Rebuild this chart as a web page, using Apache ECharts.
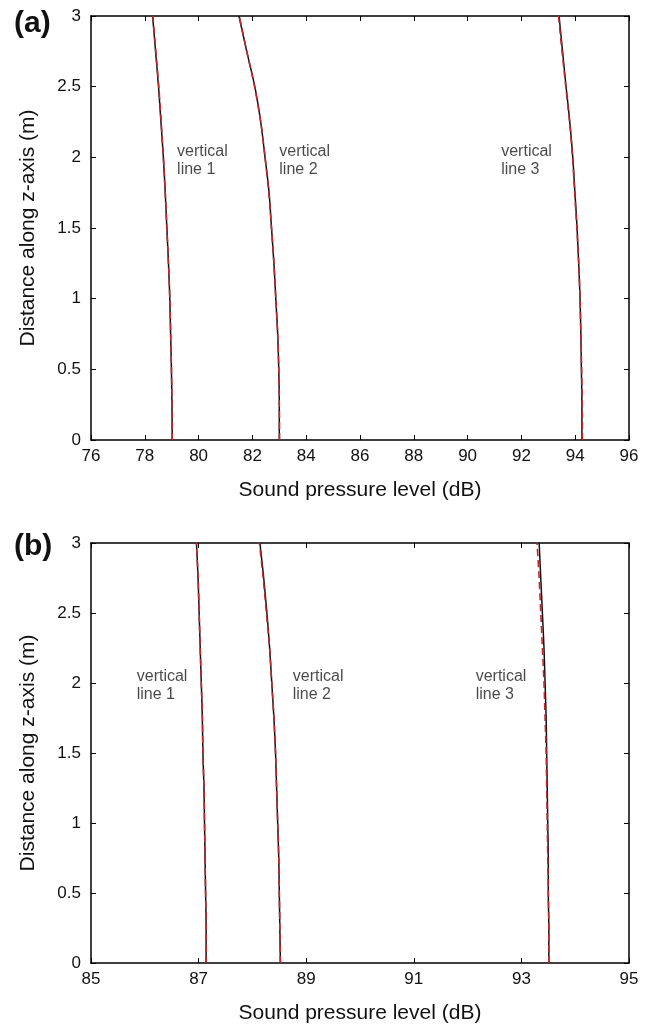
<!DOCTYPE html>
<html><head><meta charset="utf-8">
<script src="https://cdn.jsdelivr.net/npm/echarts@6/dist/echarts.min.js"></script>
<style>html,body{margin:0;padding:0;background:#fff}#c{width:651px;height:1025px}</style>
</head><body><div id="c"></div>
<script>
// Heights along z-axis (m)
const zVals = [0, 0.25, 0.5, 0.75, 1, 1.25, 1.5, 1.75, 2, 2.25, 2.5, 2.75, 3];
// Panel (a) SPL (dB): black solid / red dashed
const aLine1  = [79.02, 79.01, 78.99, 78.96, 78.93, 78.88, 78.82, 78.76, 78.69, 78.60, 78.51, 78.40, 78.29];
const aLine1r = [79.02, 79.01, 78.99, 78.96, 78.93, 78.88, 78.82, 78.76, 78.69, 78.61, 78.52, 78.41, 78.30];
const aLine2  = [83.00, 83.00, 82.98, 82.94, 82.87, 82.80, 82.71, 82.62, 82.47, 82.31, 82.09, 81.79, 81.50];
const aLine2r = [83.01, 83.00, 82.98, 82.94, 82.87, 82.80, 82.71, 82.61, 82.47, 82.31, 82.08, 81.79, 81.51];
const aLine3  = [94.25, 94.25, 94.23, 94.21, 94.18, 94.13, 94.07, 93.99, 93.91, 93.80, 93.66, 93.53, 93.40];
const aLine3r = [94.27, 94.26, 94.24, 94.21, 94.18, 94.13, 94.06, 93.98, 93.90, 93.79, 93.65, 93.51, 93.38];
// Panel (b)
const bLine1  = [87.14, 87.14, 87.13, 87.12, 87.11, 87.10, 87.08, 87.07, 87.05, 87.03, 87.01, 86.99, 86.96];
const bLine1r = [87.14, 87.14, 87.13, 87.12, 87.11, 87.10, 87.08, 87.07, 87.05, 87.03, 87.01, 86.99, 86.96];
const bLine2  = [88.52, 88.51, 88.50, 88.49, 88.47, 88.45, 88.43, 88.40, 88.36, 88.32, 88.27, 88.21, 88.14];
const bLine2r = [88.52, 88.51, 88.50, 88.49, 88.47, 88.45, 88.43, 88.40, 88.36, 88.32, 88.26, 88.20, 88.13];
const bLine3  = [93.51, 93.51, 93.50, 93.50, 93.49, 93.48, 93.47, 93.46, 93.44, 93.42, 93.39, 93.36, 93.33];
const bLine3r = [93.51, 93.51, 93.50, 93.49, 93.48, 93.47, 93.46, 93.44, 93.42, 93.39, 93.36, 93.33, 93.29];
// Tick labels
const aXTicks = [76, 78, 80, 82, 84, 86, 88, 90, 92, 94, 96];
const bXTicks = [85, 87, 89, 91, 93, 95];
const yTicks = [0, 0.5, 1, 1.5, 2, 2.5, 3];
// Annotations
const aNotes = [[79.2, 1.98, 'vertical\nline 1'], [83.0, 1.98, 'vertical\nline 2'], [91.25, 1.98, 'vertical\nline 3']];
const bNotes = [[85.85, 1.98, 'vertical\nline 1'], [88.75, 1.98, 'vertical\nline 2'], [92.15, 1.98, 'vertical\nline 3']];

const FONT = 'Liberation Sans, Arial, sans-serif';
const pair = (xs) => xs.map((x, i) => [x, zVals[i]]);

function xAxes(g, min, max, ticks) {
  const base = {
    type: 'value', gridIndex: g, min: min, max: max,
    splitLine: {show: false},
    axisLine: {show: true, onZero: false, lineStyle: {color: '#000', width: 1.5}},
    axisTick: {show: true, inside: true, length: 5, customValues: ticks, lineStyle: {color: '#000', width: 1}}
  };
  return [
    Object.assign({}, base, {position: 'bottom', name: 'Sound pressure level (dB)', nameLocation: 'middle', nameGap: 40,
      nameTextStyle: {fontFamily: FONT, fontSize: 21, color: '#111'},
      axisLabel: {show: true, customValues: ticks, fontFamily: FONT, fontSize: 17, color: '#111', margin: 8}}),
    Object.assign({}, base, {position: 'top', axisLabel: {show: false}})
  ];
}
function yAxes(g) {
  const base = {
    type: 'value', gridIndex: g, min: 0, max: 3, interval: 0.5,
    splitLine: {show: false},
    axisLine: {show: true, onZero: false, lineStyle: {color: '#000', width: 1.5}},
    axisTick: {show: true, inside: true, length: 5, customValues: yTicks, lineStyle: {color: '#000', width: 1}}
  };
  return [
    Object.assign({}, base, {position: 'left', name: 'Distance along z-axis (m)', nameLocation: 'middle', nameGap: 52,
      nameTextStyle: {fontFamily: FONT, fontSize: 21, color: '#111'},
      axisLabel: {show: true, customValues: yTicks, fontFamily: FONT, fontSize: 17, color: '#111', margin: 10,
        formatter: v => String(v)}}),
    Object.assign({}, base, {position: 'right', axisLabel: {show: false}})
  ];
}
function curve(data, xi, yi, red) {
  return {
    type: 'line', xAxisIndex: xi, yAxisIndex: yi, data: pair(data), smooth: 0.3,
    showSymbol: false, symbol: 'none', silent: true, z: red ? 3 : 2,
    lineStyle: red ? {color: '#c1272d', width: 1.6, type: [7, 4]} : {color: '#111', width: 1.5}
  };
}
function notes(arr, xi, yi) {
  return {
    type: 'scatter', xAxisIndex: xi, yAxisIndex: yi, symbolSize: 0, silent: true,
    data: arr.map(n => ({value: [n[0], n[1]], name: n[2]})),
    label: {show: true, position: 'right', distance: 0, formatter: p => p.name,
      fontFamily: FONT, fontSize: 16, color: '#1a1a1a', lineHeight: 18, align: 'left'}
  };
}

const chart = echarts.init(document.getElementById('c'), null, {renderer: 'canvas'});
chart.setOption({
  backgroundColor: '#fff',
  animation: false,
  grid: [
    {left: 91, top: 16, width: 538, height: 424},
    {left: 91, top: 543, width: 538, height: 423}
  ],
  xAxis: [].concat(xAxes(0, 76, 96, aXTicks), xAxes(1, 85, 95, bXTicks)),
  yAxis: [].concat(yAxes(0), yAxes(1)),
  graphic: [
    {type: 'text', left: 14, top: 9, style: {text: '(a)', font: 'bold 30px ' + FONT, fill: '#111'}},
    {type: 'text', left: 14, top: 532, style: {text: '(b)', font: 'bold 30px ' + FONT, fill: '#111'}}
  ],
  series: [
    curve(aLine1, 0, 0, false), curve(aLine1r, 0, 0, true),
    curve(aLine2, 0, 0, false), curve(aLine2r, 0, 0, true),
    curve(aLine3, 0, 0, false), curve(aLine3r, 0, 0, true),
    curve(bLine1, 2, 2, false), curve(bLine1r, 2, 2, true),
    curve(bLine2, 2, 2, false), curve(bLine2r, 2, 2, true),
    curve(bLine3, 2, 2, false), curve(bLine3r, 2, 2, true),
    notes(aNotes, 0, 0), notes(bNotes, 2, 2)
  ]
});
</script></body></html>
